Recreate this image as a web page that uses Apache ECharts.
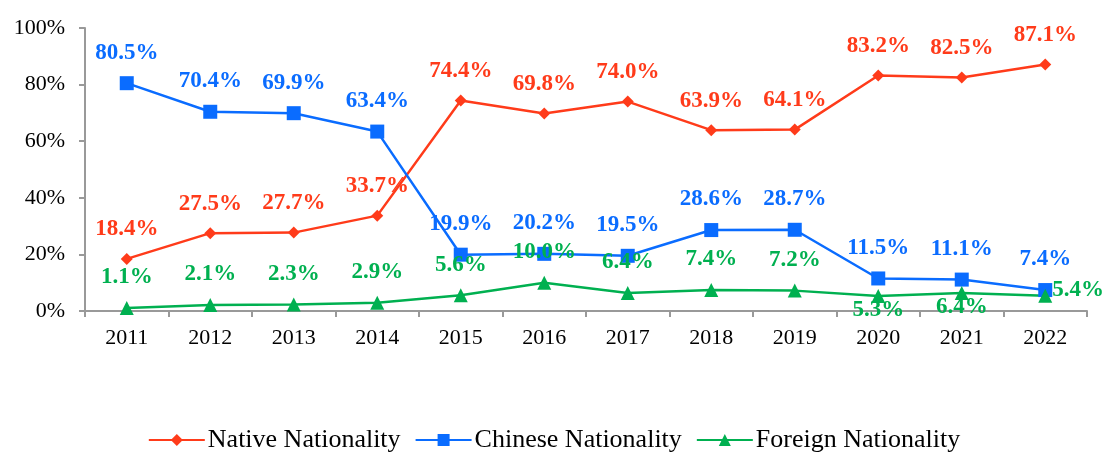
<!DOCTYPE html>
<html>
<head>
<meta charset="utf-8">
<script src="https://cdn.jsdelivr.net/npm/echarts@6/dist/echarts.min.js"></script>
<style>
  html, body { margin: 0; padding: 0; background: #fff; }
  #chart { width: 1108px; height: 452px; }
</style>
</head>
<body>
<div id="chart"></div>
<script>
// data
const years = ['2011', '2012', '2013', '2014', '2015', '2016', '2017', '2018', '2019', '2020', '2021', '2022']
const native = [18.4, 27.5, 27.7, 33.7, 74.4, 69.8, 74.0, 63.9, 64.1, 83.2, 82.5, 87.1]
const chinese = [80.5, 70.4, 69.9, 63.4, 19.9, 20.2, 19.5, 28.6, 28.7, 11.5, 11.1, 7.4]
const foreign = [1.1, 2.1, 2.3, 2.9, 5.6, 10.0, 6.4, 7.4, 7.2, 5.3, 6.4, 5.4]
// where each foreign label goes
const foreignPos = ['top', 'top', 'top', 'top', 'top', 'top', 'top', 'top', 'top', 'bottom', 'bottom', 'right']

const font = '"Liberation Serif", "Times New Roman", serif'
const RED = '#FF3B1A'
const BLUE = '#0A6CFF'
const GREEN = '#00B050'

function lbl(color) {
  return {
    show: true,
    position: 'top',
    distance: 12,
    fontFamily: font,
    fontWeight: 'bold',
    fontSize: 23,
    color: color,
    formatter: (p) => p.value.toFixed(1) + '%',
  }
}

function foreignLabel(pos) {
  if (pos === 'bottom') return { position: 'bottom', distance: -4 }
  if (pos === 'right') return { position: 'right', distance: 0, offset: [0, -6] }
  return { position: 'top', distance: 12 }
}

const chart = echarts.init(document.getElementById('chart'))
const option = {
  animation: false,
  textStyle: { fontFamily: font },
  grid: { left: 85, right: 21, top: 28, bottom: 141 },
  legend: {
    top: 422,
    left: 'center',
    itemWidth: 56,
    itemHeight: 15,
    itemGap: 14,
    textStyle: { fontFamily: font, fontSize: 26, color: '#000', padding: [0, 0, 0, -2] },
    data: ['Native Nationality', 'Chinese Nationality', 'Foreign Nationality'],
  },
  xAxis: {
    type: 'category',
    data: years,
    boundaryGap: true,
    axisLine: { lineStyle: { color: '#999', width: 2 } },
    axisTick: { show: true, length: 6, lineStyle: { color: '#999', width: 2 } },
    axisLabel: { color: '#000', fontFamily: font, fontSize: 22, margin: 16 },
  },
  yAxis: {
    type: 'value',
    min: 0,
    max: 100,
    interval: 20,
    axisLine: { show: true, lineStyle: { color: '#999', width: 2 } },
    axisTick: { show: true, length: 6, lineStyle: { color: '#999', width: 2 } },
    splitLine: { show: false },
    axisLabel: { color: '#000', fontFamily: font, fontSize: 22, margin: 20, formatter: '{value}%' },
  },
  series: [
    {
      name: 'Native Nationality',
      type: 'line',
      data: native,
      symbol: 'diamond',
      symbolSize: 12,
      color: RED,
      lineStyle: { width: 2.5, color: RED },
      label: lbl(RED),
    },
    {
      name: 'Chinese Nationality',
      type: 'line',
      data: chinese,
      symbol: 'rect',
      symbolSize: 14,
      color: BLUE,
      lineStyle: { width: 2.5, color: BLUE },
      label: lbl(BLUE),
    },
    {
      name: 'Foreign Nationality',
      type: 'line',
      data: foreign.map((v, i) => ({ value: v, label: foreignLabel(foreignPos[i]) })),
      symbol: 'triangle',
      symbolSize: 14,
      color: GREEN,
      lineStyle: { width: 2.5, color: GREEN },
      label: lbl(GREEN),
    },
  ],
}
chart.setOption(option)
</script>
</body>
</html>
